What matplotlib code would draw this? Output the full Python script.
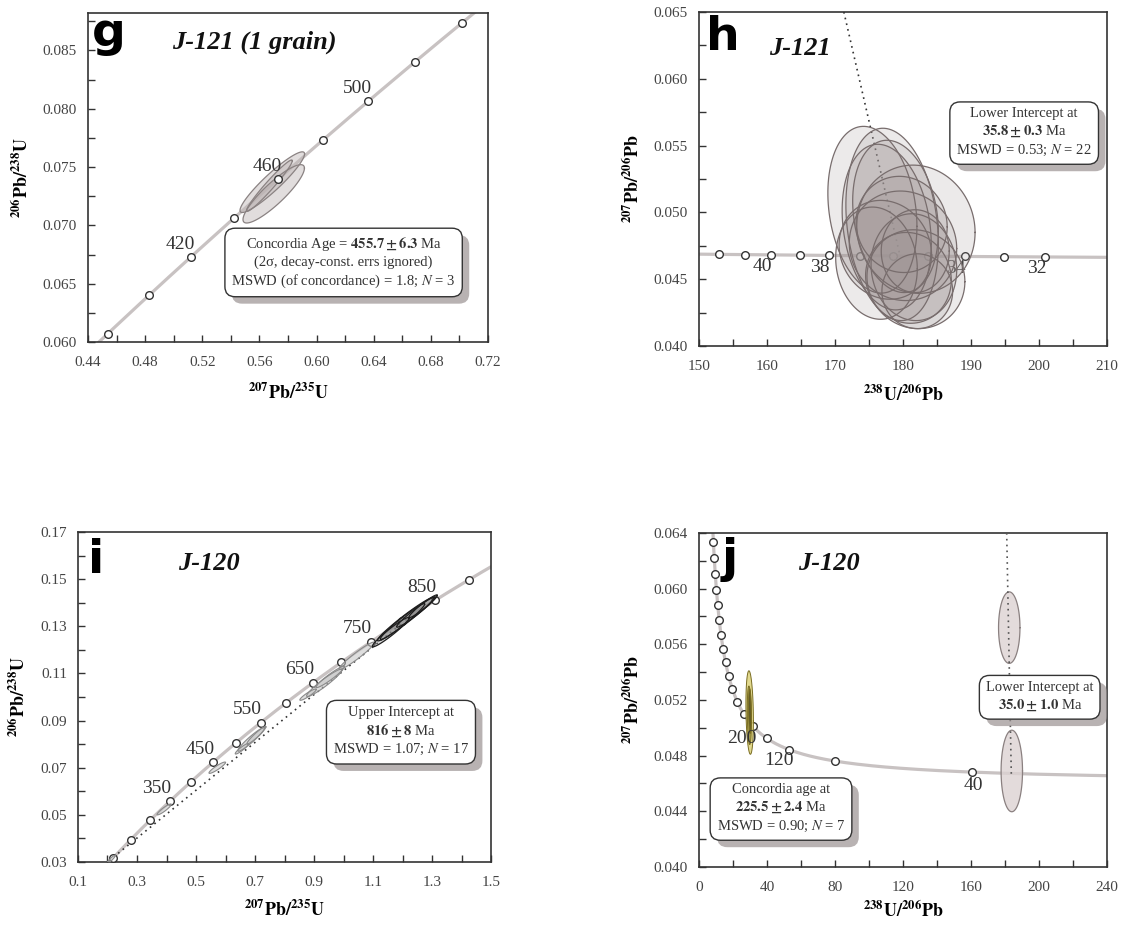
import numpy as np
import matplotlib
matplotlib.use("Agg")
import matplotlib.pyplot as plt
import matplotlib.patheffects as pe
from matplotlib.ticker import MultipleLocator, FormatStrFormatter

plt.rcParams['font.family'] = ['Liberation Serif', 'DejaVu Serif']
plt.rcParams['mathtext.fontset'] = 'stix'

# decay constants (1/yr) and present 238U/235U
L238 = 1.55125e-10
L235 = 9.8485e-10
U85 = 137.88

# ---------------- data ----------------
# g : Wetherill concordia, J-121 (1 grain)
g_marker_ages = [380, 400, 420, 440, 460, 480, 500, 520, 540]
g_label_ages = [420, 460, 500]
g_ell_x = [0.569, 0.570, 0.567]
g_ell_y = [0.0737, 0.0727, 0.0734]
g_ell_sx = [0.0226, 0.0215, 0.0160]
g_ell_sy = [0.0026, 0.0025, 0.0022]
g_ell_rho = [0.93, 0.88, 0.97]

# h : Tera-Wasserburg, J-121
h_marker_ages = [42, 41, 40, 39, 38, 37, 36, 35, 34, 33, 32]
h_label_ages = [40, 38, 34, 32]
h_disc_x = [171.3, 179.57]
h_disc_y = [0.0650, 0.04674]
h_ell_x = [175.5, 178.4, 181.9, 181.9, 176.1, 181.8, 179.8, 180.0, 180.8, 178.9, 181.6, 177.6, 182.1, 177.4]
h_ell_y = [0.0502, 0.0491, 0.04874, 0.0450, 0.0462, 0.0471, 0.0491, 0.0475, 0.0451, 0.0497, 0.0459, 0.0489, 0.0441, 0.0472]
h_ell_sx = [6.55, 6.8, 8.7, 7.2, 6.0, 5.0, 6.7, 7.9, 6.3, 6.3, 6.3, 6.55, 5.2, 6.8]
h_ell_sy = [0.00624, 0.0072, 0.0048, 0.0037, 0.0042, 0.0031, 0.0036, 0.0041, 0.0034, 0.0057, 0.0040, 0.0062, 0.0028, 0.0037]
h_ell_rho = [-0.2, -0.2, -0.05, -0.05, -0.1, 0.0, -0.05, -0.05, -0.05, -0.2, -0.05, -0.2, 0.0, -0.1]

# i : Wetherill concordia, J-120
i_marker_ages = [200, 250, 300, 350, 400, 450, 500, 550, 600, 650, 700, 750, 800, 850, 900]
i_label_ages = [350, 450, 550, 650, 750, 850]
i_disc_x = [0.19, 1.234]
i_disc_y = [0.029, 0.1349]
i_ell_x = [0.212, 0.392, 0.572, 0.655, 0.687, 0.705, 0.880, 0.935, 0.955, 1.045, 1.160, 1.210, 1.245, 1.270, 1.200]
i_ell_y = [0.0311, 0.0523, 0.0700, 0.0780, 0.0820, 0.0838, 0.1010, 0.1060, 0.1085, 0.1175, 0.1275, 0.1330, 0.1360, 0.1385, 0.1320]
i_ell_sx = [0.014, 0.024, 0.028, 0.022, 0.045, 0.032, 0.028, 0.060, 0.048, 0.060, 0.062, 0.095, 0.065, 0.048, 0.075]
i_ell_sy = [0.0017, 0.0023, 0.0024, 0.0022, 0.0050, 0.0037, 0.0024, 0.0058, 0.0045, 0.0058, 0.0062, 0.0092, 0.0064, 0.0048, 0.0076]
i_ell_rho = [0.92, 0.92, 0.92, 0.92, 0.95, 0.95, 0.92, 0.95, 0.95, 0.96, 0.96, 0.975, 0.97, 0.96, 0.97]
i_ell_dark = [0, 0, 0, 0, 0, 0, 0, 0, 0, 0, 1, 1, 1, 1, 1]

# j : Tera-Wasserburg, J-120
j_marker_ages = [40, 80, 120, 160, 200, 240, 280, 320, 360, 400, 440, 480, 520, 560, 600, 640, 680, 720]
j_label_ages = [200, 120, 40]
j_disc_x = [181.0, 183.7]
j_disc_y = [0.0640, 0.0467]
j_li_x = [182.5, 184.0]
j_li_y = [0.0572, 0.0469]
j_li_sx = [6.3, 6.3]
j_li_sy = [0.00257, 0.00293]
j_ca_x = [29.8, 29.6, 30.0]
j_ca_y = [0.0511, 0.0509, 0.0512]
j_ca_sx = [2.2, 1.2, 0.8]
j_ca_sy = [0.0030, 0.0021, 0.0016]
j_ca_col = ['#ddd37a', '#a59b45', '#4f4b22']


def wetherill(age_ma):
    t = np.asarray(age_ma, float) * 1e6
    return np.expm1(L235 * t), np.expm1(L238 * t)


def tera(age_ma):
    t = np.asarray(age_ma, float) * 1e6
    r68 = np.expm1(L238 * t)
    return 1.0 / r68, np.expm1(L235 * t) / r68 / U85


def ellipse(ax, cx, cy, sx, sy, rho, fc, ec, alpha, lw=0.9, z=3):
    th = np.linspace(0, 2 * np.pi, 120)
    x = cx + sx * np.cos(th)
    y = cy + sy * (rho * np.cos(th) + np.sqrt(1 - rho ** 2) * np.sin(th))
    ax.fill(x, y, fc=fc, alpha=alpha, zorder=z, lw=0)
    ax.plot(x, y, color=ec, lw=lw, zorder=z + 0.1)


def style(ax, xlim, ylim, xmaj, xmin, ymaj, ymin, xfmt, yfmt, xlab, ylab,
          xoff=0, yoff=0, xpad=10):
    ax.set_xlim(xlim)
    ax.set_ylim(ylim)
    ax.xaxis.set_major_locator(MultipleLocator(xmaj, offset=xoff))
    ax.xaxis.set_minor_locator(MultipleLocator(xmin))
    ax.yaxis.set_major_locator(MultipleLocator(ymaj, offset=yoff))
    ax.yaxis.set_minor_locator(MultipleLocator(ymin))
    ax.xaxis.set_major_formatter(FormatStrFormatter(xfmt))
    ax.yaxis.set_major_formatter(FormatStrFormatter(yfmt))
    ax.tick_params(which='both', direction='in', length=5, width=1, color='#333',
                   top=False, right=False, labelsize=11, labelcolor='#444')
    ax.tick_params(axis='x', pad=10)
    ax.tick_params(axis='y', pad=8)
    for s in ax.spines.values():
        s.set_color('#333')
        s.set_linewidth(1.2)
    ax.set_xlabel(xlab, fontsize=13, labelpad=xpad)
    ax.set_ylabel(ylab, fontsize=13, labelpad=8)


def infobox(ax, x, y, txt):
    t = ax.text(x, y, txt, transform=ax.transAxes, ha='center', va='center',
                fontsize=10.5, color='#333', linespacing=1.3, zorder=20,
                bbox=dict(boxstyle='round,pad=0.45,rounding_size=0.7',
                          fc='white', ec='#333', lw=1.0))
    t.get_bbox_patch().set_path_effects(
        [pe.withSimplePatchShadow(offset=(5, -5), shadow_rgbFace='#9a9292', alpha=0.7)])


def heads(ax, letter, lx, ly, name, nx, ny):
    ax.text(lx, ly, letter, transform=ax.transAxes, ha='left', va='baseline',
            fontsize=34, fontweight='bold', family='DejaVu Sans', color='black', zorder=25)
    ax.text(nx, ny, name, transform=ax.transAxes, ha='center', va='center',
            fontsize=19, fontweight='bold', style='italic', color='#111', zorder=25)


CC = '#c8c2c2'
W, H = 1121, 925
fig = plt.figure(figsize=(W / 100, H / 100), dpi=100)


def add_ax(l, t, r, b):
    return fig.add_axes([l / W, 1 - b / H, (r - l) / W, (b - t) / H])


xl_w = r'$\mathbf{^{207}Pb/^{235}U}$'
yl_w = r'$\mathbf{^{206}Pb/^{238}U}$'
xl_t = r'$\mathbf{^{238}U/^{206}Pb}$'
yl_t = r'$\mathbf{^{207}Pb/^{206}Pb}$'

# ---------- g ----------
ax = add_ax(88, 13, 488, 342)
cx, cy = wetherill(np.linspace(340, 600, 300))
ax.plot(cx, cy, color=CC, lw=2.3, zorder=2)
for k in range(len(g_ell_x)):
    ellipse(ax, g_ell_x[k], g_ell_y[k], g_ell_sx[k], g_ell_sy[k], g_ell_rho[k],
            '#bdb5b5', '#8a8282', 0.45)
mx, my = wetherill(g_marker_ages)
ax.plot(mx, my, 'o', ms=5.5, mfc='white', mec='#333', mew=1.0, zorder=6, ls='none')
lx, ly = wetherill(g_label_ages)
for a, x, y in zip(g_label_ages, lx, ly):
    ax.annotate(str(a), (x, y), xytext=(-8, 9), textcoords='offset points',
                ha='center', va='center', fontsize=14, color='#333', zorder=7)
style(ax, (0.44, 0.72), (0.060, 0.0882), 0.04, 0.02, 0.005, 0.0025, '%.2f', '%.3f', xl_w, yl_w)
heads(ax, 'g', 0.01, 0.90, 'J-121 (1 grain)', 0.415, 0.912)
infobox(ax, 0.639, 0.242,
        'Concordia Age = $\\mathbf{455.7 \\pm 6.3}$ Ma\n(2σ, decay-const. errs ignored)\n'
        'MSWD (of concordance) = 1.8; $N$ = 3')

# ---------- h ----------
ax = add_ax(699, 12, 1107, 346)
cx, cy = tera(np.linspace(29, 46, 200))
ax.plot(cx, cy, color=CC, lw=2.3, zorder=2)
mx, my = tera(h_marker_ages)
ax.plot(mx, my, 'o', ms=5.5, mfc='white', mec='#333', mew=1.0, zorder=2.5, ls='none')
lx, ly = tera(h_label_ages)
for a, x, y in zip(h_label_ages, lx, ly):
    ax.annotate(str(a), (x, y), xytext=(-6.5, -8.5), textcoords='offset points',
                ha='center', va='center', fontsize=14, color='#333', zorder=2.6)
ax.plot(h_disc_x, h_disc_y, ls=(0, (1, 2.5)), color='#333', lw=1.2, zorder=2.7)
for k in range(len(h_ell_x)):
    ellipse(ax, h_ell_x[k], h_ell_y[k], h_ell_sx[k], h_ell_sy[k], h_ell_rho[k],
            '#a09696', '#786d6d', 0.2, lw=0.9)
style(ax, (150, 210), (0.040, 0.065), 10, 5, 0.005, 0.0025, '%d', '%.3f', xl_t, yl_t, xpad=8)
heads(ax, 'h', 0.017, 0.886, 'J-121', 0.248, 0.892)
infobox(ax, 0.797, 0.639, 'Lower Intercept at\n$\\mathbf{35.8 \\pm 0.3}$ Ma\nMSWD = 0.53; $N$ = 22')

# ---------- i ----------
ax = add_ax(78, 532, 491, 862)
cx, cy = wetherill(np.linspace(150, 1100, 400))
ax.plot(cx, cy, color=CC, lw=2.3, zorder=2)
ax.plot(i_disc_x, i_disc_y, ls=(0, (1, 2.5)), color='#333', lw=1.2, zorder=2.5)
mx, my = wetherill(i_marker_ages)
ax.plot(mx, my, 'o', ms=5.5, mfc='white', mec='#333', mew=1.0, zorder=3, ls='none')
for k in range(len(i_ell_x)):
    if i_ell_dark[k]:
        ellipse(ax, i_ell_x[k], i_ell_y[k], i_ell_sx[k], i_ell_sy[k], i_ell_rho[k],
                '#8a8a8a', '#1e1e1e', 0.35, lw=0.9, z=4)
    else:
        ellipse(ax, i_ell_x[k], i_ell_y[k], i_ell_sx[k], i_ell_sy[k], i_ell_rho[k],
                '#c4c4c4', '#8a8a8a', 0.55, lw=0.8, z=4)
lx, ly = wetherill(i_label_ages)
for a, x, y in zip(i_label_ages, lx, ly):
    ax.annotate(str(a), (x, y), xytext=(-9.5, 9.5), textcoords='offset points',
                ha='center', va='center', fontsize=14, color='#333', zorder=7)
style(ax, (0.1, 1.5), (0.03, 0.17), 0.2, 0.1, 0.02, 0.01, '%.1f', '%.2f', xl_w, yl_w,
      xoff=0.1, yoff=0.01, xpad=8)
heads(ax, 'i', 0.025, 0.876, 'J-120', 0.317, 0.906)
infobox(ax, 0.782, 0.395, 'Upper Intercept at\n$\\mathbf{816 \\pm 8}$ Ma\nMSWD = 1.07; $N$ = 17')

# ---------- j ----------
ax = add_ax(699, 533, 1107, 867)
cx, cy = tera(np.linspace(25, 900, 600))
ax.plot(cx, cy, color=CC, lw=2.3, zorder=2)
mx, my = tera(j_marker_ages)
ax.plot(mx, my, 'o', ms=5.5, mfc='white', mec='#333', mew=1.0, zorder=3, ls='none')
for k in range(len(j_ca_x)):
    ellipse(ax, j_ca_x[k], j_ca_y[k], j_ca_sx[k], j_ca_sy[k], -0.2,
            j_ca_col[k], '#7a6d22', 0.85, lw=0.7, z=4)
for k in range(len(j_li_x)):
    ellipse(ax, j_li_x[k], j_li_y[k], j_li_sx[k], j_li_sy[k], 0.0,
            '#ddd3d3', '#8a8080', 0.8, lw=0.9, z=4)
ax.plot(j_disc_x, j_disc_y, ls=(0, (1, 2.5)), color='#555', lw=1.2, zorder=5)
offs = {200: (-8, -8.5), 120: (-7.5, -8), 40: (1, -9.5)}
lx, ly = tera(j_label_ages)
for a, x, y in zip(j_label_ages, lx, ly):
    ax.annotate(str(a), (x, y), xytext=offs[a], textcoords='offset points',
                ha='center', va='center', fontsize=14, color='#333', zorder=7)
style(ax, (0, 240), (0.040, 0.064), 40, 20, 0.004, 0.002, '%d', '%.3f', xl_t, yl_t, xpad=5)
heads(ax, 'j', 0.056, 0.883, 'J-120', 0.319, 0.910)
infobox(ax, 0.201, 0.175, 'Concordia age at\n$\\mathbf{225.5 \\pm 2.4}$ Ma\nMSWD = 0.90; $N$ = 7')
infobox(ax, 0.835, 0.510, 'Lower Intercept at\n$\\mathbf{35.0 \\pm 1.0}$ Ma')

fig.savefig('out.png', dpi=100, facecolor='white')
